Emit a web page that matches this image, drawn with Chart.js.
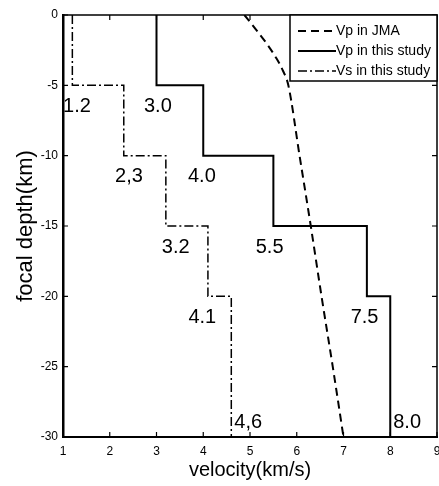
<!DOCTYPE html>
<html><head><meta charset="utf-8">
<script src="https://cdn.jsdelivr.net/npm/chart.js@4"></script>
<style>html,body{margin:0;padding:0;background:#fff}</style>
</head><body>
<canvas id="c" width="439" height="486"></canvas>
<script>
// ---- data ----
const layerTops    = [0, -5, -10, -15, -20];
const layerBottoms = [-5, -10, -15, -20, -30];
const vpStudy  = [3.0, 4.0, 5.5, 7.5, 8.0];
const vsStudy  = [1.2, 2.3, 3.2, 4.1, 4.6];
const vpLabels = ["3.0", "4.0", "5.5", "7.5", "8.0"];
const vsLabels = ["1.2", "2,3", "3.2", "4.1", "4,6"];
const jmaDepth = [0, -1, -2, -3, -4, -5, -10, -15, -20, -25, -30];
const jmaVp    = [4.88, 5.12, 5.35, 5.55, 5.71, 5.82, 6.06, 6.30, 6.53, 6.77, 7.00];
const xTicks = [1, 2, 3, 4, 5, 6, 7, 8, 9];
const yTicks = [0, -5, -10, -15, -20, -25, -30];
const seriesNames = ["Vp in JMA", "Vp in this study", "Vs in this study"];

// ---- build ----
function stepPoints(vals) {
  const pts = [];
  vals.forEach((v, i) => { pts.push({x: v, y: layerTops[i]}); pts.push({x: v, y: layerBottoms[i]}); });
  return pts;
}
const FONT = '"Liberation Sans", Arial, sans-serif';

const labelPlugin = {
  id: 'decor',
  afterDraw(chart, args, opts) {
    const ctx = chart.ctx, a = chart.chartArea;
    const xs = chart.scales.x, ys = chart.scales.y;
    ctx.save();
    // top & right frame
    ctx.strokeStyle = '#000'; ctx.lineWidth = 1.5;
    ctx.beginPath();
    ctx.moveTo(a.left, a.top); ctx.lineTo(a.right, a.top); ctx.lineTo(a.right, a.bottom);
    ctx.stroke();
    // inward ticks
    ctx.lineWidth = 1.2;
    ctx.beginPath();
    xTicks.forEach(v => { const px = xs.getPixelForValue(v);
      ctx.moveTo(px, a.bottom); ctx.lineTo(px, a.bottom - 5);
      ctx.moveTo(px, a.top); ctx.lineTo(px, a.top + 5); });
    yTicks.forEach(v => { const py = ys.getPixelForValue(v);
      ctx.moveTo(a.left, py); ctx.lineTo(a.left + 5, py);
      ctx.moveTo(a.right, py); ctx.lineTo(a.right - 5, py); });
    ctx.stroke();
    // value labels
    ctx.fillStyle = '#000';
    ctx.font = '20px ' + FONT;
    ctx.textBaseline = 'middle';
    const drawLabels = (vals, texts, dx) => {
      vals.forEach((v, i) => {
        const last = i === vals.length - 1;
        if (last) {
          ctx.textAlign = 'left';
          ctx.fillText(texts[i], xs.getPixelForValue(v) + 3, ys.getPixelForValue(layerBottoms[i] + 1));
        } else {
          ctx.textAlign = 'center';
          ctx.fillText(texts[i], xs.getPixelForValue(v + dx[i]), ys.getPixelForValue(layerBottoms[i] - 1.5));
        }
      });
    };
    drawLabels(vpStudy, vpLabels, opts.vpDx);
    drawLabels(vsStudy, vsLabels, opts.vsDx);
    // legend
    const lx = a.right - 147, ly = a.top, lw = 147, lh = 66;
    ctx.fillStyle = '#fff';
    ctx.fillRect(lx, ly, lw, lh);
    ctx.strokeStyle = '#000'; ctx.lineWidth = 1.5;
    ctx.strokeRect(lx, ly, lw, lh);
    ctx.font = '14px ' + FONT;
    ctx.textAlign = 'left';
    chart.data.datasets.forEach((ds, i) => {
      const y = ly + 16 + i * 20;
      ctx.save();
      ctx.strokeStyle = ds.borderColor; ctx.lineWidth = ds.borderWidth;
      ctx.setLineDash(ds.borderDash || []);
      ctx.beginPath(); ctx.moveTo(lx + 8, y); ctx.lineTo(lx + 46, y); ctx.stroke();
      ctx.restore();
      ctx.fillStyle = '#000';
      ctx.fillText(ds.label, lx + 46, y);
    });
    ctx.restore();
  }
};

new Chart(document.getElementById('c'), {
  type: 'scatter',
  data: {
    datasets: [
      { label: seriesNames[0], data: jmaDepth.map((d, i) => ({x: jmaVp[i], y: d})),
        showLine: true, pointRadius: 0, borderColor: '#000', borderWidth: 2, borderDash: [8, 5], cubicInterpolationMode: 'monotone' },
      { label: seriesNames[1], data: stepPoints(vpStudy),
        showLine: true, pointRadius: 0, borderColor: '#000', borderWidth: 2, tension: 0 },
      { label: seriesNames[2], data: stepPoints(vsStudy),
        showLine: true, pointRadius: 0, borderColor: '#000', borderWidth: 1.5, borderDash: [9, 3, 2, 3], tension: 0 }
    ]
  },
  options: {
    responsive: false, animation: false, devicePixelRatio: 1,
    layout: { padding: { top: 15, right: 2, left: 0, bottom: 0 } },
    plugins: {
      legend: { display: false }, tooltip: { enabled: false },
      decor: { vpDx: [0.03, -0.03, -0.08, -0.05], vsDx: [0.1, 0.11, 0.21, -0.12] }
    },
    scales: {
      x: {
        type: 'linear', min: 1, max: 9,
        afterBuildTicks: s => { s.ticks = xTicks.map(v => ({value: v})); },
        afterFit: s => { s.height = 49; s.paddingRight = 0; },
        ticks: { color: '#000', font: { size: 12, family: FONT }, padding: 7 },
        grid: { drawOnChartArea: false, drawTicks: false },
        border: { color: '#000', width: 2 },
        title: { display: true, text: 'velocity(km/s)', color: '#000', font: { size: 20, family: FONT }, padding: { top: 0, bottom: 4 } }
      },
      y: {
        type: 'linear', min: -30, max: 0,
        afterBuildTicks: s => { s.ticks = yTicks.map(v => ({value: v})); },
        afterFit: s => { s.width = 63; },
        ticks: { color: '#000', font: { size: 12, family: FONT }, padding: 5 },
        grid: { drawOnChartArea: false, drawTicks: false },
        border: { color: '#000', width: 2.5 },
        title: { display: true, text: 'focal depth(km)', color: '#000', font: { size: 22, family: FONT }, padding: { top: 13, bottom: 0 } }
      }
    }
  },
  plugins: [labelPlugin]
});
</script>
</body></html>
